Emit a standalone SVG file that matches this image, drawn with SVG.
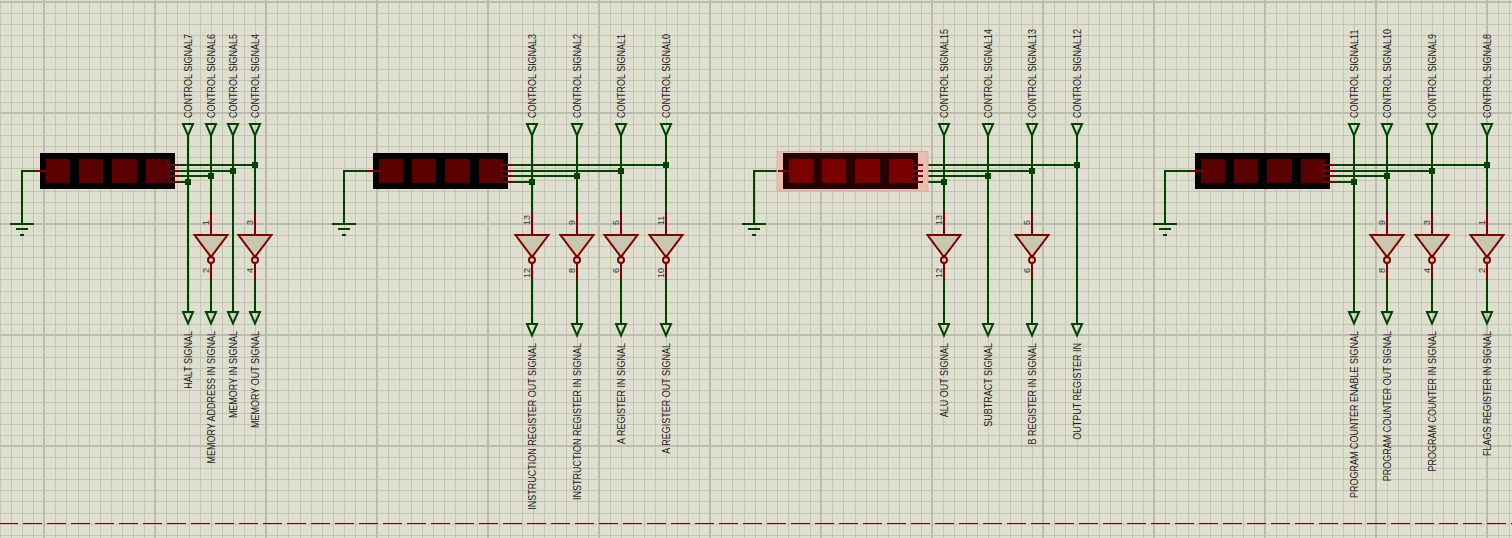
<svg xmlns="http://www.w3.org/2000/svg" width="1512" height="538" viewBox="0 0 1512 538">
<style>
.bg{fill:#dfdfd0}
.mi{fill:#c4c4b4}
.ma{fill:#bcbcab}
.w{fill:none;stroke:#004400;stroke-width:2}
.r{fill:none;stroke:#800000;stroke-width:2}
.inv{fill:#c8c8b0;stroke:#800000;stroke-width:2}
.term{fill:none;stroke:#004400;stroke-width:2}
.j{fill:#004400}
.dbody{fill:#000}
.dseg{fill:#5a0000}
.dbodyH{fill:#240000}
.dsegH{fill:#7a0000}
.halo{fill:#e9bdb2;stroke:#dcaea3;stroke-width:1}
.l{font-family:"Liberation Sans",Arial,sans-serif;font-size:9px;fill:#1a1a1a}
.p{font-family:"Liberation Sans",Arial,sans-serif;font-size:9px;fill:#333}
.e{text-anchor:end}
</style>
<defs>
<pattern id="grid" patternUnits="userSpaceOnUse" width="111" height="111">
<rect class="bg" width="111" height="111"/>
<g class="mi">
<rect x="0" width="1" height="111"/><rect x="11" width="1" height="111"/><rect x="22" width="1" height="111"/><rect x="33" width="1" height="111"/><rect x="55" width="1" height="111"/><rect x="66" width="1" height="111"/><rect x="78" width="1" height="111"/><rect x="89" width="1" height="111"/><rect x="100" width="1" height="111"/>
<rect y="13" width="111" height="1"/><rect y="24" width="111" height="1"/><rect y="35" width="111" height="1"/><rect y="46" width="111" height="1"/><rect y="57" width="111" height="1"/><rect y="69" width="111" height="1"/><rect y="80" width="111" height="1"/><rect y="91" width="111" height="1"/><rect y="102" width="111" height="1"/>
</g>
<g class="ma"><rect x="43" width="2" height="111"/><rect y="1" width="111" height="2"/></g>
</pattern>
<g id="tm"><path class="term" d="M-5 0H5L0 11.500Z"/></g>
<g id="gate"><path class="r" d="M0 212V235M0 263V280"/><path class="inv" d="M-16.500 235H16.500L0 257Z"/><circle class="r" cx="0" cy="260" r="3"/></g>
<g id="gnd"><path class="w" d="M-12 224H12M-6 229H6M-2 235H2"/></g>
<g id="disp"><rect class="dbody" width="135" height="36" y="153"/><rect class="dseg" x="6" y="159" width="24" height="24"/><rect class="dseg" x="39" y="159" width="24" height="24"/><rect class="dseg" x="72" y="159" width="25" height="24"/><rect class="dseg" x="106" y="159" width="24" height="24"/></g>
<g id="dispH"><rect class="dbodyH" width="135" height="36" y="153"/><rect class="dsegH" x="6" y="159" width="24" height="24"/><rect class="dsegH" x="39" y="159" width="24" height="24"/><rect class="dsegH" x="72" y="159" width="25" height="24"/><rect class="dsegH" x="106" y="159" width="24" height="24"/></g>
<g id="pins"><path class="r" d="M-5 171H7M128.500 165H140M128.500 171H140M128.500 176H140M128.500 182H140"/></g>
</defs>
<rect width="1512" height="538" fill="url(#grid)"/>
<path d="M0 523.500H1512" stroke="#6a0000" stroke-width="1" stroke-dasharray="19 5" stroke-dashoffset="1"/>

<g id="connectors">
<path class="w" d="M35 171H22V224M180 165H255M180 171H233M180 176H211M180 182H188"/>
<path class="w" d="M188 135V312M233 135V312M211 135V212M255 135V212M211 280V312M255 280V312"/>
<path class="w" d="M368 171H344V224M513 165H666M513 171H621M513 176H577M513 182H532"/>
<path class="w" d="M532 135V212M577 135V212M621 135V212M666 135V212M532 280V324M577 280V324M621 280V324M666 280V324"/>
<path class="w" d="M778 171H754V224M923 165H1077M923 171H1032M923 176H988M923 182H944"/>
<path class="w" d="M944 135V212M1032 135V212M988 135V324M1077 135V324M944 280V324M1032 280V324"/>
<path class="w" d="M1190 171H1165V224M1335 165H1487M1335 171H1432M1335 176H1387M1335 182H1354"/>
<path class="w" d="M1354 135V312M1387 135V212M1432 135V212M1487 135V212M1387 280V312M1432 280V312M1487 280V312"/>
<g class="j">
<rect x="185" y="179" width="6" height="6"/><rect x="208" y="173" width="6" height="6"/><rect x="230" y="168" width="6" height="6"/><rect x="252" y="162" width="6" height="6"/>
<rect x="529" y="179" width="6" height="6"/><rect x="574" y="173" width="6" height="6"/><rect x="618" y="168" width="6" height="6"/><rect x="663" y="162" width="6" height="6"/>
<rect x="941" y="179" width="6" height="6"/><rect x="985" y="173" width="6" height="6"/><rect x="1029" y="168" width="6" height="6"/><rect x="1074" y="162" width="6" height="6"/>
<rect x="1351" y="179" width="6" height="6"/><rect x="1384" y="173" width="6" height="6"/><rect x="1429" y="168" width="6" height="6"/><rect x="1484" y="162" width="6" height="6"/>
</g>
</g>

<g id="display1"><use href="#disp" x="40"/><use href="#pins" x="40"/></g>
<g id="display2"><use href="#disp" x="373"/><use href="#pins" x="373"/></g>
<g id="display3"><rect class="halo" x="777" y="151.500" width="151" height="39.500"/><use href="#dispH" x="783"/><use href="#pins" x="783"/></g>
<g id="display4"><use href="#disp" x="1195"/><use href="#pins" x="1195"/></g>

<g id="ground1"><use href="#gnd" x="22"/></g>
<g id="ground2"><use href="#gnd" x="344"/></g>
<g id="ground3"><use href="#gnd" x="754"/></g>
<g id="ground4"><use href="#gnd" x="1165"/></g>

<g id="gate-u1a"><use href="#gate" x="211"/><text class="p" transform="translate(209 225) rotate(-90)">1</text><text class="p e" transform="translate(209 268) rotate(-90)">2</text></g>
<g id="gate-u1b"><use href="#gate" x="255"/><text class="p" transform="translate(253 225) rotate(-90)">3</text><text class="p e" transform="translate(253 268) rotate(-90)">4</text></g>
<g id="gate-u2a"><use href="#gate" x="532"/><text class="p" transform="translate(530 225) rotate(-90)">13</text><text class="p e" transform="translate(530 268) rotate(-90)">12</text></g>
<g id="gate-u2b"><use href="#gate" x="577"/><text class="p" transform="translate(575 225) rotate(-90)">9</text><text class="p e" transform="translate(575 268) rotate(-90)">8</text></g>
<g id="gate-u2c"><use href="#gate" x="621"/><text class="p" transform="translate(619 225) rotate(-90)">5</text><text class="p e" transform="translate(619 268) rotate(-90)">6</text></g>
<g id="gate-u2d"><use href="#gate" x="666"/><text class="p" transform="translate(664 225) rotate(-90)">11</text><text class="p e" transform="translate(664 268) rotate(-90)">10</text></g>
<g id="gate-u3a"><use href="#gate" x="944"/><text class="p" transform="translate(942 225) rotate(-90)">13</text><text class="p e" transform="translate(942 268) rotate(-90)">12</text></g>
<g id="gate-u3b"><use href="#gate" x="1032"/><text class="p" transform="translate(1030 225) rotate(-90)">5</text><text class="p e" transform="translate(1030 268) rotate(-90)">6</text></g>
<g id="gate-u4a"><use href="#gate" x="1387"/><text class="p" transform="translate(1385 225) rotate(-90)">9</text><text class="p e" transform="translate(1385 268) rotate(-90)">8</text></g>
<g id="gate-u4b"><use href="#gate" x="1432"/><text class="p" transform="translate(1430 225) rotate(-90)">3</text><text class="p e" transform="translate(1430 268) rotate(-90)">4</text></g>
<g id="gate-u4c"><use href="#gate" x="1487"/><text class="p" transform="translate(1485 225) rotate(-90)">1</text><text class="p e" transform="translate(1485 268) rotate(-90)">2</text></g>

<g id="cs7"><use href="#tm" x="188" y="124"/><text class="l" transform="translate(192 118) rotate(-90) scale(1 1.12)">CONTROL SIGNAL7</text></g>
<g id="cs6"><use href="#tm" x="211" y="124"/><text class="l" transform="translate(215 118) rotate(-90) scale(1 1.12)">CONTROL SIGNAL6</text></g>
<g id="cs5"><use href="#tm" x="233" y="124"/><text class="l" transform="translate(237 118) rotate(-90) scale(1 1.12)">CONTROL SIGNAL5</text></g>
<g id="cs4"><use href="#tm" x="255" y="124"/><text class="l" transform="translate(259 118) rotate(-90) scale(1 1.12)">CONTROL SIGNAL4</text></g>
<g id="cs3"><use href="#tm" x="532" y="124"/><text class="l" transform="translate(536 118) rotate(-90) scale(1 1.12)">CONTROL SIGNAL3</text></g>
<g id="cs2"><use href="#tm" x="577" y="124"/><text class="l" transform="translate(581 118) rotate(-90) scale(1 1.12)">CONTROL SIGNAL2</text></g>
<g id="cs1"><use href="#tm" x="621" y="124"/><text class="l" transform="translate(625 118) rotate(-90) scale(1 1.12)">CONTROL SIGNAL1</text></g>
<g id="cs0"><use href="#tm" x="666" y="124"/><text class="l" transform="translate(670 118) rotate(-90) scale(1 1.12)">CONTROL SIGNAL0</text></g>
<g id="cs15"><use href="#tm" x="944" y="124"/><text class="l" transform="translate(948 118) rotate(-90) scale(1 1.12)">CONTROL SIGNAL15</text></g>
<g id="cs14"><use href="#tm" x="988" y="124"/><text class="l" transform="translate(992 118) rotate(-90) scale(1 1.12)">CONTROL SIGNAL14</text></g>
<g id="cs13"><use href="#tm" x="1032" y="124"/><text class="l" transform="translate(1036 118) rotate(-90) scale(1 1.12)">CONTROL SIGNAL13</text></g>
<g id="cs12"><use href="#tm" x="1077" y="124"/><text class="l" transform="translate(1081 118) rotate(-90) scale(1 1.12)">CONTROL SIGNAL12</text></g>
<g id="cs11"><use href="#tm" x="1354" y="124"/><text class="l" transform="translate(1358 118) rotate(-90) scale(1 1.12)">CONTROL SIGNAL11</text></g>
<g id="cs10"><use href="#tm" x="1387" y="124"/><text class="l" transform="translate(1391 118) rotate(-90) scale(1 1.12)">CONTROL SIGNAL10</text></g>
<g id="cs9"><use href="#tm" x="1432" y="124"/><text class="l" transform="translate(1436 118) rotate(-90) scale(1 1.12)">CONTROL SIGNAL9</text></g>
<g id="cs8"><use href="#tm" x="1487" y="124"/><text class="l" transform="translate(1491 118) rotate(-90) scale(1 1.12)">CONTROL SIGNAL8</text></g>

<g id="halt"><use href="#tm" x="188" y="312"/><text class="l e" transform="translate(192 331) rotate(-90) scale(1 1.12)">HALT SIGNAL</text></g>
<g id="mai"><use href="#tm" x="211" y="312"/><text class="l e" transform="translate(215 331) rotate(-90) scale(1 1.12)">MEMORY ADDRESS IN SIGNAL</text></g>
<g id="mi"><use href="#tm" x="233" y="312"/><text class="l e" transform="translate(237 331) rotate(-90) scale(1 1.12)">MEMORY IN SIGNAL</text></g>
<g id="mo"><use href="#tm" x="255" y="312"/><text class="l e" transform="translate(259 331) rotate(-90) scale(1 1.12)">MEMORY OUT SIGNAL</text></g>
<g id="iro"><use href="#tm" x="532" y="324"/><text class="l e" transform="translate(536 343) rotate(-90) scale(1 1.12)">INSTRUCTION REGISTER OUT SIGNAL</text></g>
<g id="iri"><use href="#tm" x="577" y="324"/><text class="l e" transform="translate(581 343) rotate(-90) scale(1 1.12)">INSTRUCTION REGISTER IN SIGNAL</text></g>
<g id="ari"><use href="#tm" x="621" y="324"/><text class="l e" transform="translate(625 343) rotate(-90) scale(1 1.12)">A REGISTER IN SIGNAL</text></g>
<g id="aro"><use href="#tm" x="666" y="324"/><text class="l e" transform="translate(670 343) rotate(-90) scale(1 1.12)">A REGISTER OUT SIGNAL</text></g>
<g id="alu"><use href="#tm" x="944" y="324"/><text class="l e" transform="translate(948 343) rotate(-90) scale(1 1.12)">ALU OUT SIGNAL</text></g>
<g id="sub"><use href="#tm" x="988" y="324"/><text class="l e" transform="translate(992 343) rotate(-90) scale(1 1.12)">SUBTRACT SIGNAL</text></g>
<g id="bri"><use href="#tm" x="1032" y="324"/><text class="l e" transform="translate(1036 343) rotate(-90) scale(1 1.12)">B REGISTER IN SIGNAL</text></g>
<g id="ori"><use href="#tm" x="1077" y="324"/><text class="l e" transform="translate(1081 343) rotate(-90) scale(1 1.12)">OUTPUT REGISTER IN</text></g>
<g id="pce"><use href="#tm" x="1354" y="312"/><text class="l e" transform="translate(1358 331) rotate(-90) scale(1 1.12)">PROGRAM COUNTER ENABLE SIGNAL</text></g>
<g id="pco"><use href="#tm" x="1387" y="312"/><text class="l e" transform="translate(1391 331) rotate(-90) scale(1 1.12)">PROGRAM COUNTER OUT SIGNAL</text></g>
<g id="pci"><use href="#tm" x="1432" y="312"/><text class="l e" transform="translate(1436 331) rotate(-90) scale(1 1.12)">PROGRAM COUNTER IN SIGNAL</text></g>
<g id="fri"><use href="#tm" x="1487" y="312"/><text class="l e" transform="translate(1491 331) rotate(-90) scale(1 1.12)">FLAGS REGISTER IN SIGNAL</text></g>
</svg>
